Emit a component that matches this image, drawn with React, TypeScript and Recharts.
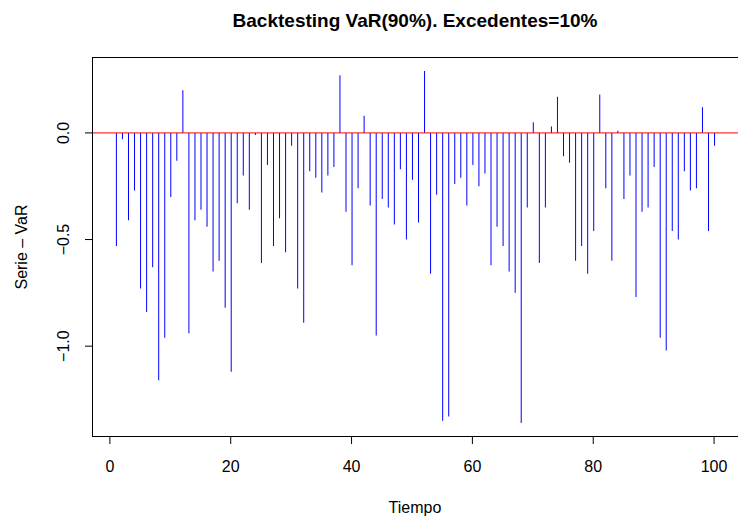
import { ComposedChart, Bar, XAxis, YAxis, ReferenceLine } from "recharts";

const tiempo: number[] = Array.from({ length: 100 }, (_, i) => i + 1);

const serieVaR: number[] = [
  -0.53, -0.03, -0.41, -0.27, -0.73, -0.84, -0.63, -1.16, -0.96, -0.3,
  -0.13, 0.2, -0.94, -0.41, -0.36, -0.44, -0.65, -0.6, -0.82, -1.12,
  -0.33, -0.2, -0.36, -0.01, -0.61, -0.15, -0.53, -0.4, -0.56, -0.06,
  -0.73, -0.89, -0.18, -0.21, -0.28, -0.2, -0.16, 0.27, -0.37, -0.62,
  -0.26, 0.08, -0.34, -0.95, -0.31, -0.35, -0.43, -0.17, -0.5, -0.22,
  -0.42, 0.29, -0.66, -0.29, -1.35, -1.33, -0.24, -0.21, -0.34, -0.15,
  -0.25, -0.19, -0.62, -0.44, -0.53, -0.65, -0.75, -1.36, -0.35, 0.05,
  -0.61, -0.35, 0.03, 0.17, -0.11, -0.14, -0.6, -0.53, -0.66, -0.46,
  0.18, -0.26, -0.6, 0.01, -0.31, -0.2, -0.77, -0.37, -0.35, -0.16,
  -0.96, -1.02, -0.46, -0.5, -0.18, -0.27, -0.26, 0.12, -0.46, -0.06,
];

const xTicks = [0, 20, 40, 60, 80, 100];
const yTicks = [-1.0, -0.5, 0.0];

const data = tiempo.map((t, i) => ({ t, v: serieVaR[i] }));

const font = "'Liberation Sans', Arial, sans-serif";

const YTick = (props: any) => {
  const { x, y, payload } = props;
  return (
    <text
      x={x - 14}
      y={y}
      transform={`rotate(-90 ${x - 14} ${y})`}
      textAnchor="middle"
      fontSize={16}
      fontFamily={font}
      fill="#000"
    >
      {payload.value.toFixed(1).replace("-", "\u2212")}
    </text>
  );
};

export default function App() {
  return (
    <div style={{ position: "absolute", left: 0, top: 0, width: 738, height: 523, fontFamily: font, background: "#fff" }}>
      <ComposedChart
        width={738}
        height={523}
        data={data}
        margin={{ top: 57, left: 0, right: 0, bottom: 0 }}
      >
        <XAxis
          dataKey="t"
          type="number"
          domain={[-2.96, 103.96]}
          ticks={xTicks}
          axisLine={false}
          tickSize={7}
          tickLine={{ stroke: "#000" }}
          height={86}
          tick={{ fontSize: 16, fill: "#000", fontFamily: font, dy: 15 }}
        />
        <YAxis
          type="number"
          domain={[-1.426, 0.356]}
          ticks={yTicks}
          axisLine={false}
          tickSize={7}
          tickLine={{ stroke: "#000" }}
          width={92}
          tick={<YTick />}
        />
        <Bar dataKey="v" fill="#0000ff" barSize={1} isAnimationActive={false} />
        <ReferenceLine y={0} stroke="#ff0000" strokeWidth={1} />
      </ComposedChart>
      <div style={{ position: "absolute", left: 92, top: 57, width: 650, height: 380, border: "1px solid #000", boxSizing: "border-box" }} />
      <div style={{ position: "absolute", top: 10, left: 92, width: 646, textAlign: "center", fontWeight: "bold", fontSize: 19 }}>
        Backtesting VaR(90%). Excedentes=10%
      </div>
      <div style={{ position: "absolute", top: 499, left: 92, width: 646, textAlign: "center", fontSize: 16 }}>
        Tiempo
      </div>
      <div style={{ position: "absolute", left: 22, top: 247, transform: "translate(-50%, -50%) rotate(-90deg)", fontSize: 16, whiteSpace: "nowrap" }}>
        Serie – VaR
      </div>
    </div>
  );
}
